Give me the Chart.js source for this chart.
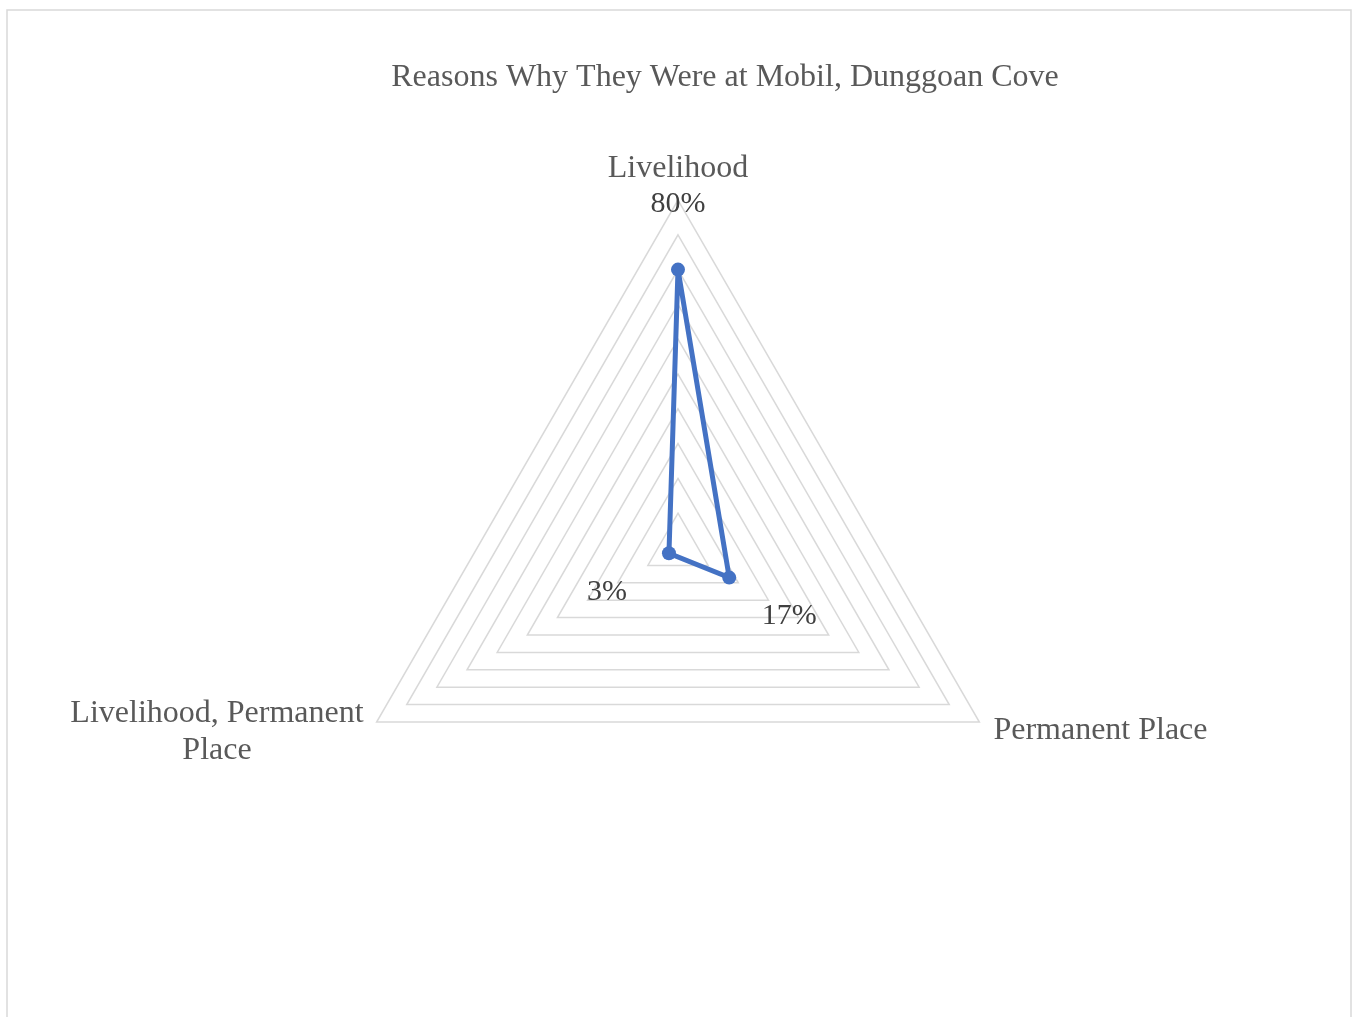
<!DOCTYPE html>
<html>
<head>
<meta charset="utf-8">
<title>Reasons Why They Were at Mobil, Dunggoan Cove</title>
<script src="https://cdn.jsdelivr.net/npm/chart.js@4.4.1/dist/chart.umd.min.js"></script>
<style>
  html, body { margin: 0; padding: 0; background: #ffffff; }
  #wrap { position: relative; width: 1354px; height: 1017px; }
  canvas { display: block; }
</style>
</head>
<body>
<div id="wrap"><canvas id="chart" width="1354" height="1017"></canvas></div>
<script>
// Survey responses: reasons given for staying at Mobil, Dunggoan Cove
const categories = ['Livelihood', 'Permanent Place', ['Livelihood, Permanent', 'Place']];
const shares = [80, 17, 3];
const valueLabels = ['80%', '17%', '3%'];
const titleText = 'Reasons Why They Were at Mobil, Dunggoan Cove';

const FONT = '"Liberation Serif", "Times New Roman", Times, serif';

// Outer frame and title
const framePlugin = {
  id: 'frame',
  beforeDraw(chart) {
    const ctx = chart.ctx;
    ctx.save();
    ctx.fillStyle = '#ffffff';
    ctx.fillRect(0, 0, chart.width, chart.height);
    ctx.strokeStyle = '#d9d9d9';
    ctx.lineWidth = 1.5;
    ctx.strokeRect(7, 10, 1344, 1030);
    ctx.fillStyle = '#595959';
    ctx.font = '32px ' + FONT;
    ctx.textAlign = 'center';
    ctx.textBaseline = 'alphabetic';
    ctx.fillText(titleText, 725, 86);
    ctx.restore();
  }
};

// Category names placed beside each corner of the web
const cornerLabelPlugin = {
  id: 'cornerLabels',
  afterDraw(chart) {
    const scale = chart.scales.r;
    const ctx = chart.ctx;
    const R = scale.drawingArea;
    ctx.save();
    ctx.fillStyle = '#595959';
    ctx.font = '32px ' + FONT;
    ctx.textBaseline = 'alphabetic';

    // top corner
    let p = scale.getPointPosition(0, R);
    ctx.textAlign = 'center';
    ctx.fillText(categories[0], p.x, p.y - 23);

    // right corner
    p = scale.getPointPosition(1, R);
    ctx.textAlign = 'left';
    ctx.fillText(categories[1], p.x + 14, p.y + 17);

    // left corner, two centred lines
    p = scale.getPointPosition(2, R);
    const lines = categories[2];
    const w = Math.max(...lines.map(l => ctx.measureText(l).width));
    ctx.textAlign = 'center';
    lines.forEach((l, i) => ctx.fillText(l, p.x - 13 - w / 2, p.y + i * 37));
    ctx.restore();
  }
};

// Percentage labels next to each data point
const valueLabelPlugin = {
  id: 'valueLabels',
  afterDatasetsDraw(chart) {
    const meta = chart.getDatasetMeta(0);
    const ctx = chart.ctx;
    const offsets = [[0, -57.6], [60, 46.4], [-62, 47]];
    ctx.save();
    ctx.fillStyle = '#404040';
    ctx.font = '30px ' + FONT;
    ctx.textAlign = 'center';
    ctx.textBaseline = 'alphabetic';
    meta.data.forEach((pt, i) => {
      ctx.fillText(valueLabels[i], pt.x + offsets[i][0], pt.y + offsets[i][1]);
    });
    ctx.restore();
  }
};

new Chart(document.getElementById('chart'), {
  type: 'radar',
  data: {
    labels: categories,
    datasets: [{
      label: 'Share of respondents',
      data: shares,
      borderColor: '#4472c4',
      backgroundColor: '#4472c4',
      borderWidth: 5,
      pointRadius: 7,
      pointBorderWidth: 0,
      pointBackgroundColor: '#4472c4',
      fill: false,
      tension: 0
    }]
  },
  options: {
    responsive: false,
    animation: false,
    devicePixelRatio: 1,
    layout: { padding: { left: 330, right: 328, top: 200, bottom: 121 } },
    plugins: {
      legend: { display: false },
      title: { display: false },
      tooltip: { enabled: false }
    },
    scales: {
      r: {
        min: 0,
        max: 100,
        ticks: { display: false, stepSize: 10 },
        grid: { color: '#d9d9d9', lineWidth: 1.5 },
        angleLines: { display: false },
        pointLabels: { display: false }
      }
    }
  },
  plugins: [framePlugin, cornerLabelPlugin, valueLabelPlugin]
});
</script>
</body>
</html>
